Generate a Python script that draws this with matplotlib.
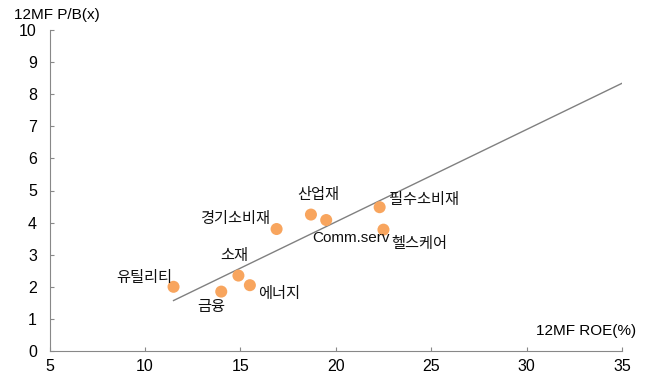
import numpy as np
import matplotlib
matplotlib.use("Agg")
import matplotlib.pyplot as plt

plt.rcParams['font.family'] = ['Liberation Sans', 'Noto Sans CJK KR', 'DejaVu Sans']

sectors = ["유틸리티", "금융", "소재", "에너지", "경기소비재", "산업재", "Comm.serv", "필수소비재", "헬스케어"]
roe = [11.5, 14.0, 14.9, 15.5, 16.9, 18.7, 19.5, 22.3, 22.5]
pb = [2.0, 1.85, 2.35, 2.05, 3.8, 4.25, 4.08, 4.48, 3.78]

# trend line as drawn in the source chart
trend_slope = 0.288
trend_icpt = -1.74
trend_x = [11.5, 35]

# label offsets in points, with alignment
label_pos = {
    "유틸리티": (-1, 6, "right"),
    "금융": (-7, -11, "center"),
    "소재": (-3, 14, "center"),
    "에너지": (6, -6, "left"),
    "경기소비재": (-5, 7, "right"),
    "산업재": (5, 14, "center"),
    "Comm.serv": (-10, -13, "left"),
    "필수소비재": (7, 5, "left"),
    "헬스케어": (6, -10, "left"),
}

fig = plt.figure(figsize=(6.49, 3.79), dpi=100)
ax = fig.add_axes([49.5 / 649, 28 / 379, (622 - 49.5) / 649, (351 - 30) / 379])

xs = np.array(trend_x)
ax.plot(xs, trend_slope * xs + trend_icpt, color="#808080", lw=1.0, zorder=1)

ax.scatter(roe, pb, s=75, color="#F8A55E", edgecolors="none", zorder=2)

for name, x, y in zip(sectors, roe, pb):
    dx, dy, ha = label_pos[name]
    ax.annotate(name, (x, y), xytext=(dx, dy), textcoords="offset points",
                ha=ha, va="center", fontsize=11, color="#111111")

ax.set_xlim(5, 35)
ax.set_ylim(0, 10)
ax.set_xticks(range(5, 36, 5))
ax.set_yticks(range(0, 11))
ax.tick_params(direction="in", length=3, labelsize=11.5, color="#888888")
ax.tick_params(axis="x", pad=6)
ax.tick_params(axis="y", pad=9)
for s in ["top", "right"]:
    ax.spines[s].set_visible(False)
for s in ["left", "bottom"]:
    ax.spines[s].set_color("#888888")
    ax.spines[s].set_linewidth(0.8)

fig.text(14 / 649, 1 - 15 / 379, "12MF P/B(x)", fontsize=11, va="center", ha="left")
fig.text(636 / 649, 1 - 331 / 379, "12MF ROE(%)", fontsize=11, va="center", ha="right")

fig.savefig("out.png", dpi=100)
